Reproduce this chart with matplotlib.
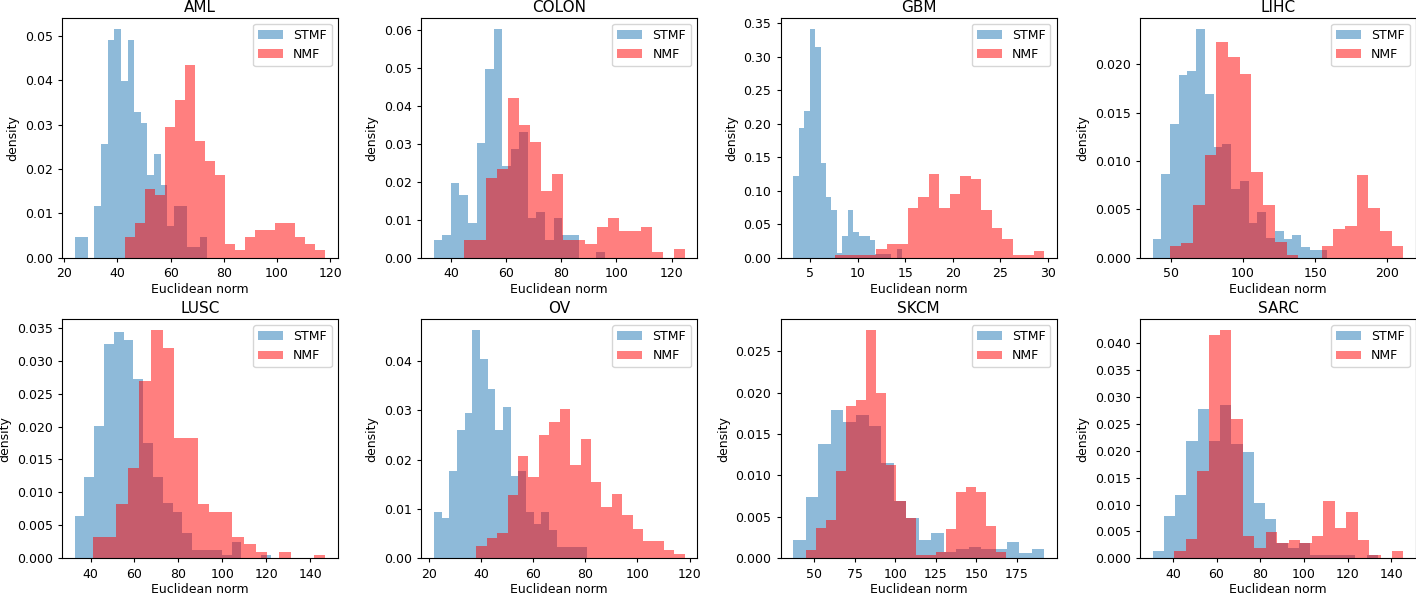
import numpy as np
import matplotlib
matplotlib.use("Agg")
import matplotlib.pyplot as plt

titles = ["AML", "COLON", "GBM", "LIHC", "LUSC", "OV", "SKCM", "SARC"]

# value ranges (min, max) of each histogram, 20 bins each
aml_stmf_range = (23.9, 73.7)
aml_stmf = [0.0047, 0.0047, 0, 0.0117, 0.0257, 0.0491, 0.0515, 0.0398, 0.0491, 0.0328,
            0.0304, 0.0186, 0.0234, 0.0164, 0.0071, 0.0117, 0.0117, 0.0023, 0.0023, 0.0047]
aml_nmf_range = (42.9, 118.2)
aml_nmf = [0.0047, 0.0079, 0.0155, 0.0141, 0.0294, 0.0356, 0.0435, 0.0263, 0.0217, 0.0186,
           0.0031, 0.0017, 0.0046, 0.0062, 0.0062, 0.0078, 0.0078, 0.0046, 0.0031, 0.0017]

colon_stmf_range = (33.8, 95.8)
colon_stmf = [0.0046, 0.0061, 0.0196, 0.0166, 0.0091, 0.0301, 0.0496, 0.0601, 0.0241, 0.0286,
              0.0330, 0.0105, 0.012, 0.0046, 0.0105, 0.006, 0.006, 0, 0, 0.0016]
colon_nmf_range = (44.8, 124.8)
colon_nmf = [0.0047, 0.0047, 0.021, 0.0234, 0.042, 0.035, 0.0303, 0.0175, 0.022, 0.0046,
             0.0046, 0.0035, 0.0082, 0.0104, 0.007, 0.007, 0.0082, 0.0014, 0, 0.0024]

gbm_stmf_range = (3.21, 14.7)
gbm_stmf = [0.1225, 0.193, 0.2186, 0.341, 0.315, 0.1414, 0.090, 0.0707, 0.0065, 0.0324,
            0.0707, 0.039, 0.0324, 0.0324, 0.026, 0.0055, 0.0055, 0.0055, 0, 0.0125]
gbm_nmf_range = (7.56, 29.63)
gbm_nmf = [0.0035, 0.0035, 0.0035, 0.0035, 0.0134, 0.0204, 0.0204, 0.0742, 0.0911, 0.1245,
           0.0742, 0.0951, 0.122, 0.118, 0.0707, 0.0438, 0.0274, 0.0035, 0.0035, 0.01]

lihc_stmf_range = (37.3, 158.3)
lihc_stmf = [0.00197, 0.00864, 0.01378, 0.01886, 0.01927, 0.02363, 0.01689, 0.0114, 0.0118, 0.0071,
             0.0079, 0.0036, 0.0047, 0.002, 0.0028, 0.0019, 0.0023, 0.0011, 0.0008, 0.0008]
lihc_nmf_range = (49.1, 211.1)
lihc_nmf = [0.0012, 0.0015, 0.0054, 0.0106, 0.0223, 0.0208, 0.019, 0.0089, 0.0054, 0.0016,
            0.0003, 0, 0, 0.0012, 0.003, 0.0033, 0.0086, 0.0051, 0.0028, 0.0012]

lusc_stmf_range = (32.7, 122.1)
lusc_stmf = [0.00644, 0.01232, 0.02013, 0.03256, 0.03443, 0.03321, 0.02728, 0.0175, 0.0123, 0.0084,
             0.007, 0.0038, 0.0013, 0.0013, 0.0013, 0.0005, 0.0025, 0, 0, 0.0005]
lusc_nmf_range = (41.06, 147.0)
lusc_nmf = [0.0032, 0.0032, 0.0082, 0.0137, 0.0269, 0.0346, 0.0319, 0.0183, 0.0183, 0.0083,
            0.007, 0.007, 0.0033, 0.0021, 0.0009, 0, 0.001, 0, 0, 0.0005]

ov_stmf_range = (22.0, 80.8)
ov_stmf = [0.00934, 0.0082, 0.01767, 0.02606, 0.0295, 0.0462, 0.0403, 0.0343, 0.0261, 0.0307,
           0.0166, 0.0177, 0.0094, 0.007, 0.0093, 0.0058, 0.0022, 0.0022, 0.0022, 0.0022]
ov_nmf_range = (38.26, 118.1)
ov_nmf = [0.0024, 0.0042, 0.0051, 0.0129, 0.0208, 0.0164, 0.025, 0.0277, 0.0303, 0.019,
          0.0242, 0.0154, 0.0104, 0.0131, 0.0087, 0.006, 0.0035, 0.0035, 0.0017, 0.0008]

skcm_stmf_range = (37.05, 191.9)
skcm_stmf = [0.00225, 0.00744, 0.01379, 0.01789, 0.0164, 0.0173, 0.016, 0.0115, 0.0069, 0.0049,
             0.00225, 0.0031, 0.0007, 0.0011, 0.0014, 0.0011, 0.0011, 0.002, 0.0006, 0.0011]
skcm_nmf_range = (44.86, 168.4)
skcm_nmf = [0.001, 0.0036, 0.0046, 0.0105, 0.0184, 0.0191, 0.0275, 0.0199, 0.0113, 0.0069,
            0.0049, 0.0004, 0.0004, 0.0007, 0.0035, 0.008, 0.0086, 0.008, 0.0039, 0.0007]

sarc_stmf_range = (30.7, 133.9)
sarc_stmf = [0.00143, 0.0079, 0.0117, 0.0219, 0.0277, 0.0219, 0.0285, 0.0212, 0.0197, 0.0102,
             0.0073, 0.0028, 0.002, 0.0028, 0.0006, 0.0006, 0.0006, 0.0006, 0, 0.0006]
sarc_nmf_range = (40.6, 145.6)
sarc_nmf = [0.0014, 0.0035, 0.0163, 0.0416, 0.0424, 0.0259, 0.0042, 0.002, 0.0048, 0.0028,
            0.0034, 0.0028, 0.0042, 0.0107, 0.0056, 0.0086, 0.0034, 0.0006, 0, 0.0013]

stmf_all = [(aml_stmf_range, aml_stmf), (colon_stmf_range, colon_stmf), (gbm_stmf_range, gbm_stmf),
            (lihc_stmf_range, lihc_stmf), (lusc_stmf_range, lusc_stmf), (ov_stmf_range, ov_stmf),
            (skcm_stmf_range, skcm_stmf), (sarc_stmf_range, sarc_stmf)]
nmf_all = [(aml_nmf_range, aml_nmf), (colon_nmf_range, colon_nmf), (gbm_nmf_range, gbm_nmf),
           (lihc_nmf_range, lihc_nmf), (lusc_nmf_range, lusc_nmf), (ov_nmf_range, ov_nmf),
           (skcm_nmf_range, skcm_nmf), (sarc_nmf_range, sarc_nmf)]

plt.rcParams.update({
    "font.family": ["DejaVu Sans"],
    "xtick.labelsize": 9,
    "ytick.labelsize": 9,
    "axes.labelsize": 9,
    "axes.titlesize": 11,
    "legend.fontsize": 9,
    "xtick.major.size": 3.2,
    "ytick.major.size": 3.2,
    "axes.linewidth": 0.8,
})

W, H = 1416, 595
fig = plt.figure(figsize=(W / 100, H / 100), dpi=100)

lefts = [62, 421.3, 780.7, 1140]
axw = 276
tops = [17.7, 319]
axh = [240, 239.3]


def draw(ax, rng, vals, color, label):
    edges = np.linspace(rng[0], rng[1], len(vals) + 1)
    centers = (edges[:-1] + edges[1:]) / 2
    ax.hist(centers, bins=edges, weights=vals, color=color, alpha=0.5, label=label)


for i, title in enumerate(titles):
    r, c = divmod(i, 4)
    ax = fig.add_axes([lefts[c] / W, 1 - (tops[r] + axh[r]) / H, axw / W, axh[r] / H])
    draw(ax, stmf_all[i][0], stmf_all[i][1], "#1f77b4", "STMF")
    draw(ax, nmf_all[i][0], nmf_all[i][1], "red", "NMF")
    ax.set_title(title, pad=4)
    ax.set_xlabel("Euclidean norm", labelpad=2)
    ax.set_ylabel("density", labelpad=4)
    ax.legend(loc="upper right")

fig.savefig("out.png", dpi=100)
